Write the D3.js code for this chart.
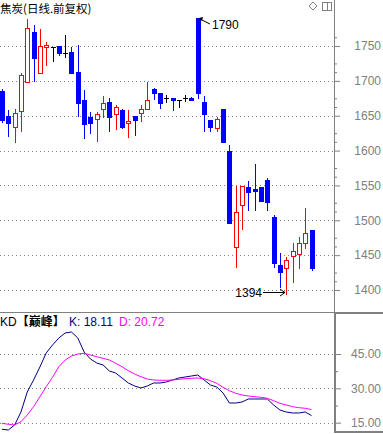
<!DOCTYPE html>
<html>
<head>
<meta charset="utf-8">
<script src="https://cdn.jsdelivr.net/npm/d3@7/dist/d3.min.js"></script>
<style>
  html, body { margin: 0; padding: 0; background: #fff; }
  svg { display: block; }
  text { font-family: "Liberation Sans", Arial, sans-serif; }
</style>
</head>
<body>
<script>
// ---------- DATA ----------
const title = "焦炭(日线.前复权)";
const opens  = [1685.4,1649.6,1633.8,1656.8,1698.4,1769.9,1711.3,1748.6,1748.6,1750.0,
                1740.0,1741.4,1712.7,1672.5,1648.1,1645.3,1659.6,1669.7,1652.5,1658.2,
                1639.5,1649.6,1653.9,1659.6,1688.3,1682.6,1675.4,1675.8,1672.5,1675.0,
                1675.4,1790.0,1669.7,1643.8,1632.4,1659.6,1599.4,1461.7,1521.9,1547.7,
                1544.9,1547.7,1557.8,1504.7,1435.8,1431.5,1448.8,1451.6,1467.4,1486.0];
const closes = [1643.8,1639.5,1653.9,1708.4,1775.8,1732.8,1750.0,1751.4,1748.6,1740.0,
                1740.0,1711.3,1668.2,1638.1,1639.5,1652.5,1668.2,1648.1,1662.5,1633.8,
                1642.4,1643.8,1659.6,1672.5,1682.6,1668.2,1675.4,1672.1,1672.5,1675.0,
                1672.5,1682.6,1652.5,1633.8,1645.3,1612.3,1496.1,1511.9,1549.2,1540.6,
                1542.0,1527.6,1526.2,1438.7,1425.8,1443.0,1455.9,1467.4,1481.7,1431.5];
const highs  = [1688.3,1658.2,1659.6,1711.3,1788.7,1780.1,1774.4,1755.7,1749.0,1750.0,
                1765.8,1748.6,1751.4,1686.9,1655.3,1655.3,1678.3,1675.4,1665.4,1659.6,
                1658.2,1649.6,1665.4,1698.4,1689.7,1682.6,1679.7,1675.8,1672.5,1679.7,
                1677.3,1790.0,1678.3,1643.8,1648.1,1659.6,1608.0,1549.2,1549.2,1556.3,
                1580.7,1547.7,1560.6,1507.6,1453.0,1447.3,1467.4,1476.0,1517.6,1486.0];
const lows   = [1641.0,1620.9,1612.3,1628.1,1698.4,1699.8,1711.3,1722.7,1729.0,1737.0,
                1734.2,1711.3,1649.6,1618.0,1625.2,1613.7,1648.1,1628.1,1630.9,1632.4,
                1619.5,1622.3,1642.4,1659.6,1674.0,1661.1,1670.2,1658.2,1662.5,1671.1,
                1672.5,1675.4,1628.1,1628.1,1628.1,1612.3,1496.1,1433.0,1487.5,1514.7,
                1514.7,1527.6,1514.7,1433.0,1404.3,1394.0,1411.5,1431.5,1460.2,1428.7];
const kValues = [12.12,11.81,14.00,19.67,28.41,33.65,39.32,45.44,48.93,51.99,
                 54.17,54.61,51.99,45.87,42.82,41.07,40.20,37.58,36.70,34.52,
                 32.34,31.03,30.15,31.03,32.34,32.34,32.77,33.65,34.52,34.96,
                 35.39,35.83,33.65,31.46,30.59,27.97,23.60,23.60,24.04,25.35,
                 25.35,25.35,25.35,22.73,20.55,19.67,19.24,19.24,19.67,18.11];
const dValues = [14.74,14.30,14.00,15.44,18.36,21.99,26.35,30.72,34.83,39.45,
                 42.38,44.13,45.00,45.31,44.56,43.82,43.12,42.38,40.94,39.45,
                 37.71,36.27,35.09,34.08,33.65,33.52,33.52,33.65,33.95,34.21,
                 34.39,34.52,34.21,33.34,32.21,30.46,28.98,27.84,27.10,26.66,
                 26.35,26.09,25.66,24.61,23.47,22.73,21.99,21.55,21.29,20.72];
const priceTicks = [1400,1450,1500,1550,1600,1650,1700,1750];
const kdTicks = [15,30,45];
const kdName = "KD";
const kdTag = "【巅峰】";
const kLabel = "K: 18.11";
const dLabel = "D: 20.72";
const maxLabel = "1790", minLabel = "1394";
const maxIndex = 31, minIndex = 45;

// ---------- LAYOUT ----------
const W = 383, H = 434;
const axisX = 334;
const gray = "#808080";
const svg = d3.select("body").append("svg").attr("width", W).attr("height", H);

const x = d3.scaleLinear().domain([0, opens.length - 1]).range([2, 311.5]);
const y = d3.scaleLinear().domain([1400, 1750]).range([290, 46]);
const yk = d3.scaleLinear().domain([15, 45]).range([422.7, 354]);
const px = i => Math.round(x(i));
const py = v => Math.round(y(v));

// grid lines
const grid = svg.append("g").attr("shape-rendering", "crispEdges");
grid.selectAll("line.pg").data(priceTicks).enter().append("line")
  .attr("x1", 0).attr("x2", axisX).attr("y1", d => py(d) + 0.5).attr("y2", d => py(d) + 0.5)
  .attr("stroke", gray).attr("stroke-dasharray", "1,3");
grid.selectAll("line.kg").data(kdTicks).enter().append("line")
  .attr("x1", 0).attr("x2", axisX).attr("y1", d => Math.round(yk(d)) + 0.5).attr("y2", d => Math.round(yk(d)) + 0.5)
  .attr("stroke", gray).attr("stroke-dasharray", "1,3");

// price axis
const axisG = svg.append("g").attr("transform", `translate(${axisX},0)`);
const minorPrice = d3.range(1387.5, 1775, 12.5).filter(v => {
  const m = ((v % 50) + 50) % 50; return m === 25 || m === 12.5;
});
const axMinor = d3.axisRight(y).tickValues(minorPrice).tickSize(3).tickFormat("");
axisG.call(axMinor).call(g => g.select(".domain").remove())
  .call(g => g.selectAll("line").attr("stroke", gray));
const axMajor = d3.axisRight(y).tickValues(priceTicks).tickSize(6).tickPadding(0).tickFormat(d3.format("d"));
const maj = axisG.append("g").call(axMajor);
maj.select(".domain").remove();
maj.selectAll("line").attr("stroke", gray);
maj.selectAll("text").attr("x", 47).attr("text-anchor", "end").attr("fill", gray)
  .style("font-size", "12px").style("font-family", "'Liberation Sans', Arial, sans-serif");
svg.append("line").attr("x1", axisX + 0.5).attr("x2", axisX + 0.5).attr("y1", 0).attr("y2", 313)
  .attr("stroke", gray);

// KD axis
const kdAxisG = svg.append("g").attr("transform", `translate(${axisX + 1},0)`);
const kdMajor = kdAxisG.append("g").call(d3.axisRight(yk).tickValues(kdTicks).tickSize(6).tickFormat(d3.format(".2f")));
kdMajor.select(".domain").remove();
kdMajor.selectAll("line").attr("stroke", gray);
kdMajor.selectAll("text").attr("x", 46).attr("text-anchor", "end").attr("fill", gray)
  .style("font-size", "12px").style("font-family", "'Liberation Sans', Arial, sans-serif");
const kdMinor = kdAxisG.append("g").call(d3.axisRight(yk).tickValues([22.5, 37.5]).tickSize(3).tickFormat(""));
kdMinor.select(".domain").remove();
kdMinor.selectAll("line").attr("stroke", gray);

// separators & KD box
svg.append("line").attr("x1", 0).attr("x2", axisX).attr("y1", 312.5).attr("y2", 312.5).attr("stroke", gray);
svg.append("rect").attr("x", axisX + 1).attr("y", 313).attr("width", 60).attr("height", 119)
  .attr("fill", "none").attr("stroke", gray).attr("stroke-width", 2);

// icons top right
svg.append("path").attr("d", "M313,2 L317,6 L313,10 L309,6 Z").attr("fill", "none").attr("stroke", gray);
svg.append("rect").attr("x", 322.5).attr("y", 2.5).attr("width", 9).attr("height", 8).attr("fill", "none").attr("stroke", gray);
svg.append("line").attr("x1", 327.5).attr("x2", 327.5).attr("y1", 2.5).attr("y2", 10.5).attr("stroke", gray);

// ---------- CANDLES ----------
const candles = opens.map((o, i) => ({ i, o, c: closes[i], h: highs[i], l: lows[i] }));
const cg = svg.append("g").attr("shape-rendering", "crispEdges");
candles.forEach(d => {
  const cx = px(d.i);
  const top = py(Math.max(d.o, d.c)), bot = py(Math.min(d.o, d.c));
  const hy = py(d.h), ly = py(d.l);
  if (d.c > d.o) {
    const col = "#FF0000";
    if (hy < top) cg.append("line").attr("x1", cx + 0.5).attr("x2", cx + 0.5).attr("y1", hy).attr("y2", top).attr("stroke", col);
    if (ly > bot) cg.append("line").attr("x1", cx + 0.5).attr("x2", cx + 0.5).attr("y1", bot).attr("y2", ly + 1).attr("stroke", col);
    cg.append("rect").attr("x", cx - 1.5).attr("y", top + 0.5).attr("width", 4).attr("height", Math.max(1, bot - top))
      .attr("fill", "#fff").attr("stroke", col);
  } else if (d.c < d.o) {
    const col = "#0000FF";
    cg.append("line").attr("x1", cx + 0.5).attr("x2", cx + 0.5).attr("y1", hy).attr("y2", ly + 1).attr("stroke", col);
    cg.append("rect").attr("x", cx - 2).attr("y", top).attr("width", 5).attr("height", Math.max(1, bot - top + 1))
      .attr("fill", col);
  } else {
    const col = "#000000";
    cg.append("line").attr("x1", cx + 0.5).attr("x2", cx + 0.5).attr("y1", hy).attr("y2", ly + 1).attr("stroke", col);
    cg.append("line").attr("x1", cx - 2).attr("x2", cx + 3).attr("y1", top + 0.5).attr("y2", top + 0.5).attr("stroke", col);
  }
});

// max / min annotations
const mx = px(maxIndex), my = py(highs[maxIndex]);
svg.append("line").attr("x1", mx + 2).attr("y1", my + 1).attr("x2", mx + 12).attr("y2", my + 6).attr("stroke", "#000");
svg.append("path").attr("d", `M${mx + 1},${my} L${mx + 5},${my - 1} L${mx + 4},${my + 3} Z`).attr("fill", "#000");
svg.append("text").attr("x", mx + 14).attr("y", my + 11).text(maxLabel)
  .style("font-size", "12px").attr("fill", "#000");

const nx = px(minIndex), ny = py(lows[minIndex]);
svg.append("line").attr("x1", nx - 23).attr("x2", nx - 1).attr("y1", ny - 1.5).attr("y2", ny - 1.5).attr("stroke", "#000");
svg.append("path").attr("d", `M${nx - 6},${ny - 5} L${nx - 1},${ny - 1.5} L${nx - 6},${ny + 2}`).attr("fill", "none").attr("stroke", "#000");
svg.append("text").attr("x", nx - 24).attr("y", ny + 3).attr("text-anchor", "end").text(minLabel)
  .style("font-size", "12px").attr("fill", "#000");

// ---------- KD LINES ----------
const kLine = d3.line().x((d, i) => x(i)).y(d => yk(d));
svg.append("path").datum(kValues).attr("d", kLine).attr("fill", "none").attr("stroke", "#000080").attr("stroke-width", 1);
svg.append("path").datum(dValues).attr("d", kLine).attr("fill", "none").attr("stroke", "#FF00FF").attr("stroke-width", 1);

// ---------- TEXTS ----------
svg.append("text").attr("x", 0).attr("y", 13.3).text(title)
  .style("font-family", "'Noto Sans CJK SC', sans-serif").style("font-size", "11.5px").attr("fill", "#000");
const kdt = svg.append("text").attr("x", 0).attr("y", 326).style("font-size", "12px");
kdt.append("tspan").attr("fill", "#000").text(kdName);
kdt.append("tspan").attr("fill", "#000").style("font-family", "'Noto Sans CJK SC', sans-serif").style("font-weight", "bold").text(kdTag);
kdt.append("tspan").attr("x", 69).attr("fill", "#000080").text(kLabel);
kdt.append("tspan").attr("x", 119).attr("fill", "#FF00FF").text(dLabel);
</script>
</body>
</html>
